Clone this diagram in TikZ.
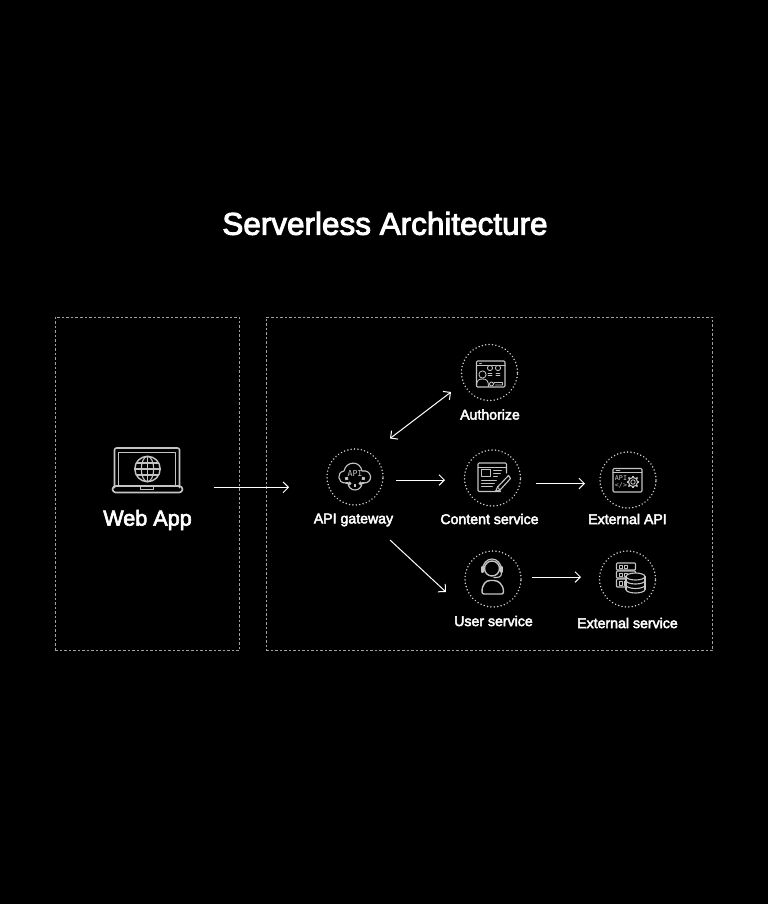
\documentclass[tikz,border=0pt]{standalone}
\usepackage{fontspec}
\setmainfont{Liberation Sans}
\newfontfamily\medfont[FakeBold=3]{Liberation Sans}
\newfontfamily\iconfont{DejaVu Sans Mono}
\usetikzlibrary{arrows.meta,calc}
\definecolor{icongray}{HTML}{C4C4C4}
\definecolor{boxgray}{HTML}{A0A0A0}
\tikzset{
  x=0.75pt,y=-0.75pt,
  panel/.style={draw=boxgray,line width=0.6pt,dash pattern=on 1.9pt off 1.5pt,inner sep=0pt,anchor=north west},
  dotcirc/.style={circle,draw=icongray!80!white,line width=1.25pt,line cap=round,dash pattern=on 0.01pt off 2.55pt,minimum size=42pt,inner sep=0pt},
  flow/.style={draw=white,line width=0.75pt,-{Straight Barb[length=4pt,width=8pt]}},
  biflow/.style={draw=white,line width=0.75pt,{Straight Barb[length=4pt,width=8pt]}-{Straight Barb[length=4pt,width=8pt]}},
  ic/.style={draw=icongray,line width=0.85pt,line join=round,line cap=round},
  ict/.style={ic,line width=0.65pt},
  svclabel/.style={text=white,font=\medfont\fontsize{10.6pt}{12pt}\selectfont,inner sep=0pt},
  laptop/.pic={
    \draw[ic,line width=1.2pt,rounded corners=1.5pt] (-33,18) -- (-33,-21.5) -- (32,-21.5) -- (32,18);
    \draw[ic] (-29,17) -- (-29,-17) -- (28,-17) -- (28,17);
    \draw[ic,line width=1.2pt,rounded corners=2.4pt] (-35,16.5) rectangle (35,23);
    \draw[ic] (-7,17) -- (-7,20) -- (6,20) -- (6,17);
    \begin{scope}[shift={(0,-0.5)}]
      \draw[ic,line width=1.1pt] (0,0) circle (12.7);
      \draw[ic] (0,0) ellipse (6.2 and 12.7);
      \draw[ic] (0,-12.7) -- (0,12.7) (-12.7,0) -- (12.7,0) (-11,-6) -- (11,-6) (-11,6) -- (11,6);
    \end{scope}
  },
  apiicon/.pic={
    \draw[ic] (-9,6) .. controls (-18,6.5) and (-18.5,-5) .. (-11,-6)
       .. controls (-9,-16) and (5,-17) .. (7,-6)
       .. controls (17,-8) and (19,6) .. (9,6);
    \draw[ic] (-9,6) -- (-7,6) (7,6) -- (9,6);
    \draw[ic] (7,6) arc (0:180:7);
    \foreach \a in {10,50,90,130,170}{\draw[ic,line width=2.1pt,line cap=butt] (\a:7) -- (\a:10);}
    \node[text=icongray,font=\iconfont\fontsize{6.2pt}{7pt}\selectfont,inner sep=0pt] (t) at (0,-3.5) {API};
  },
  authicon/.pic={
    \draw[ic,rounded corners=0.8pt] (-13,-11.5) rectangle (15.5,14.5);
    \draw[ict] (-13,-7.5) -- (15.5,-7.5);
    \draw[ict] (-7,2) circle (3.6);
    \draw[ict] (-13,14) .. controls (-13,7) and (-10,6.5) .. (-7,6.5) .. controls (-3,6.5) and (-1,8) .. (-1,14);
    \draw[ict] (0.5,-4.5) circle (2.6) (8.5,-4.5) circle (2.6);
    \draw[ict] (-1.5,1) -- (2.5,1) (-1.5,3) -- (2.5,3) (6.5,1) -- (10.5,1) (6.5,3) -- (10.5,3);
    \draw[ict] (2,11.5) circle (2);
    \draw[ict] (4,11.5) -- (5,10) -- (13,10) -- (13,12.5) -- (6,12.5);
    \draw[ict] (-10,-9.5) -- (-8,-9.5);
  },
  contenticon/.pic={
    \draw[ic,rounded corners=0.8pt] (8,13.5) -- (-14.5,13.5) -- (-14.5,-15) -- (14,-15) -- (14,-5);
    \draw[ict] (-14.5,-11) -- (14,-11);
    \draw[ict] (-11,-8.5) rectangle (-2,-2);
    \draw[ict] (1,-8) -- (9,-8) (1,-5) -- (8,-5) (1,-2) -- (5,-2);
    \draw[ict] (-11,2) -- (4,2) (-11,5) -- (2,5) (-11,8) -- (0,8);
    \draw[ic] (16,-2.5) -- (5,9) -- (3,13.5) -- (7.5,12) -- (18,0.5) -- cycle;
    \draw[ict] (5,9) -- (7.5,12);
  },
  exticon/.pic={
    \draw[ic,rounded corners=0.8pt] (-15,-11.5) rectangle (14,12);
    \draw[ict] (-15,-7.5) -- (14,-7.5);
    \draw[ict] (-12,-9.5) -- (-8,-9.5);
    \node[text=icongray,font=\iconfont\fontsize{5pt}{5pt}\selectfont,inner sep=0pt] (a) at (-7,-1.5) {API};
    \node[text=icongray,font=\iconfont\fontsize{5pt}{5pt}\selectfont,inner sep=0pt] (b) at (-7,5.5) {</>};
    \draw[ict] (5,2) circle (2.2);
    \draw[ic] (5,2) circle (4.6);
    \foreach \a in {0,45,...,315}{\draw[ic,line width=1.2pt,line cap=butt] ($(5,2)+(\a:4.4)$) -- ($(5,2)+(\a:6.4)$);}
  },
  usericon/.pic={
    \draw[ic,line width=1.05pt] (-1,-10.5) circle (7.5);
    \draw[ic,line width=.9pt] (-10.5,-9) arc (180:360:9.5 and 11);
    \draw[ic,line width=1.7pt] (-10.5,-12) -- (-10.5,-7) (8.5,-12) -- (8.5,-7);
    \draw[ic] (8.5,-6) .. controls (8.5,-1.5) and (5,-1.5) .. (1,-1.5);
    \draw[ic,line width=1.05pt,rounded corners=1.5pt] (-11,15) .. controls (-11,5) and (-7,1.5) .. (-1,1.5) .. controls (5,1.5) and (10.5,5) .. (10.5,15) -- cycle;
  },
  dbicon/.pic={
    \draw[ic,rounded corners=0.6pt] (-11,-16) rectangle (8,-9);
    \draw[ic,rounded corners=0.6pt] (-11,-8) rectangle (8,-1);
    \draw[ic,rounded corners=0.6pt] (-11,0) rectangle (8,8);
    \draw[ict] (-8.5,-14) rectangle (-5,-11) (-3.5,-14) rectangle (0,-11);
    \draw[ict] (-8.5,-6) rectangle (-5,-3) (-3.5,-6) rectangle (0,-3);
    \draw[ict] (-8.5,2) rectangle (-5,6) (-3.5,2) rectangle (0,6);
    \fill[black] (-1.5,-2.5) rectangle (17.5,12) (8,-2.5) ellipse (9.5 and 3.5);
    \draw[ic,fill=black] (8,-2.5) ellipse (9.5 and 3.5);
    \draw[ic] (-1.5,-2.5) -- (-1.5,10.5) (17.5,-2.5) -- (17.5,10.5);
    \draw[ic] (17.5,1.5) arc (0:180:9.5 and 3.5);
    \draw[ic] (17.5,6) arc (0:180:9.5 and 3.5);
    \draw[ic] (17.5,10.5) arc (0:180:9.5 and 3.5);
  },
}
\begin{document}
\begin{tikzpicture}
\useasboundingbox (0,0) rectangle (768,904);
\fill[black] (0,0) rectangle (768,904);

\node[text=white,font=\medfont\fontsize{23.6pt}{28pt}\selectfont,inner sep=0pt] (title) at (385,223.5) {Serverless Architecture};

\node[panel,minimum width=138.5pt,minimum height=250.25pt] (webbox) at (54.6,316.6) {};
\node[panel,minimum width=335pt,minimum height=250.25pt] (svcbox) at (265.6,316.6) {};

\pic (icweb) at (147.5,469.5) {laptop};
\node[text=white,font=\medfont\fontsize{16.2pt}{19pt}\selectfont,inner sep=0pt] (webapp) at (147.5,520) {Web App};

\node[dotcirc] (gw) at (355,477) {};
\node[dotcirc] (auth) at (489.5,372.5) {};
\node[dotcirc] (content) at (492.5,478) {};
\node[dotcirc] (extapi) at (628,480) {};
\node[dotcirc] (user) at (493,579) {};
\node[dotcirc] (extsvc) at (627.5,579) {};

\pic (icapi) at (gw.center) {apiicon};
\pic (icauth) at (auth.center) {authicon};
\pic (iccontent) at (content.center) {contenticon};
\pic (icext) at (extapi.center) {exticon};
\pic (icuser) at (user.center) {usericon};
\pic (icdb) at (extsvc.center) {dbicon};

\node[svclabel] (lgw) at (353.5,520) {API gateway};
\node[svclabel] (lauth) at (490,414.5) {Authorize};
\node[svclabel] (lcontent) at (489.5,519) {Content service};
\node[svclabel] (lextapi) at (627.5,519) {External API};
\node[svclabel] (luser) at (493.5,621) {User service};
\node[svclabel] (lextsvc) at (627.5,623) {External service};

\draw[flow] ([shift={(-26.5,3.5)}]webbox.east) -- ([shift={(23.5,3.5)}]svcbox.west);
\draw[flow] ([shift={(41,3)}]gw.center) -- ([shift={(-47.5,2)}]content.center);
\draw[flow] ([shift={(43.5,5.5)}]content.center) -- ([shift={(-43,3.5)}]extapi.center);
\draw[flow] ([shift={(39,-2)}]user.center) -- ([shift={(-46.5,-2)}]extsvc.center);
\draw[flow] ([shift={(35,63)}]gw.center) -- ([shift={(-47,13)}]user.center);
\draw[biflow] ([shift={(35,-38.5)}]gw.center) -- ([shift={(-38.5,19.5)}]auth.center);
\end{tikzpicture}
\end{document}
